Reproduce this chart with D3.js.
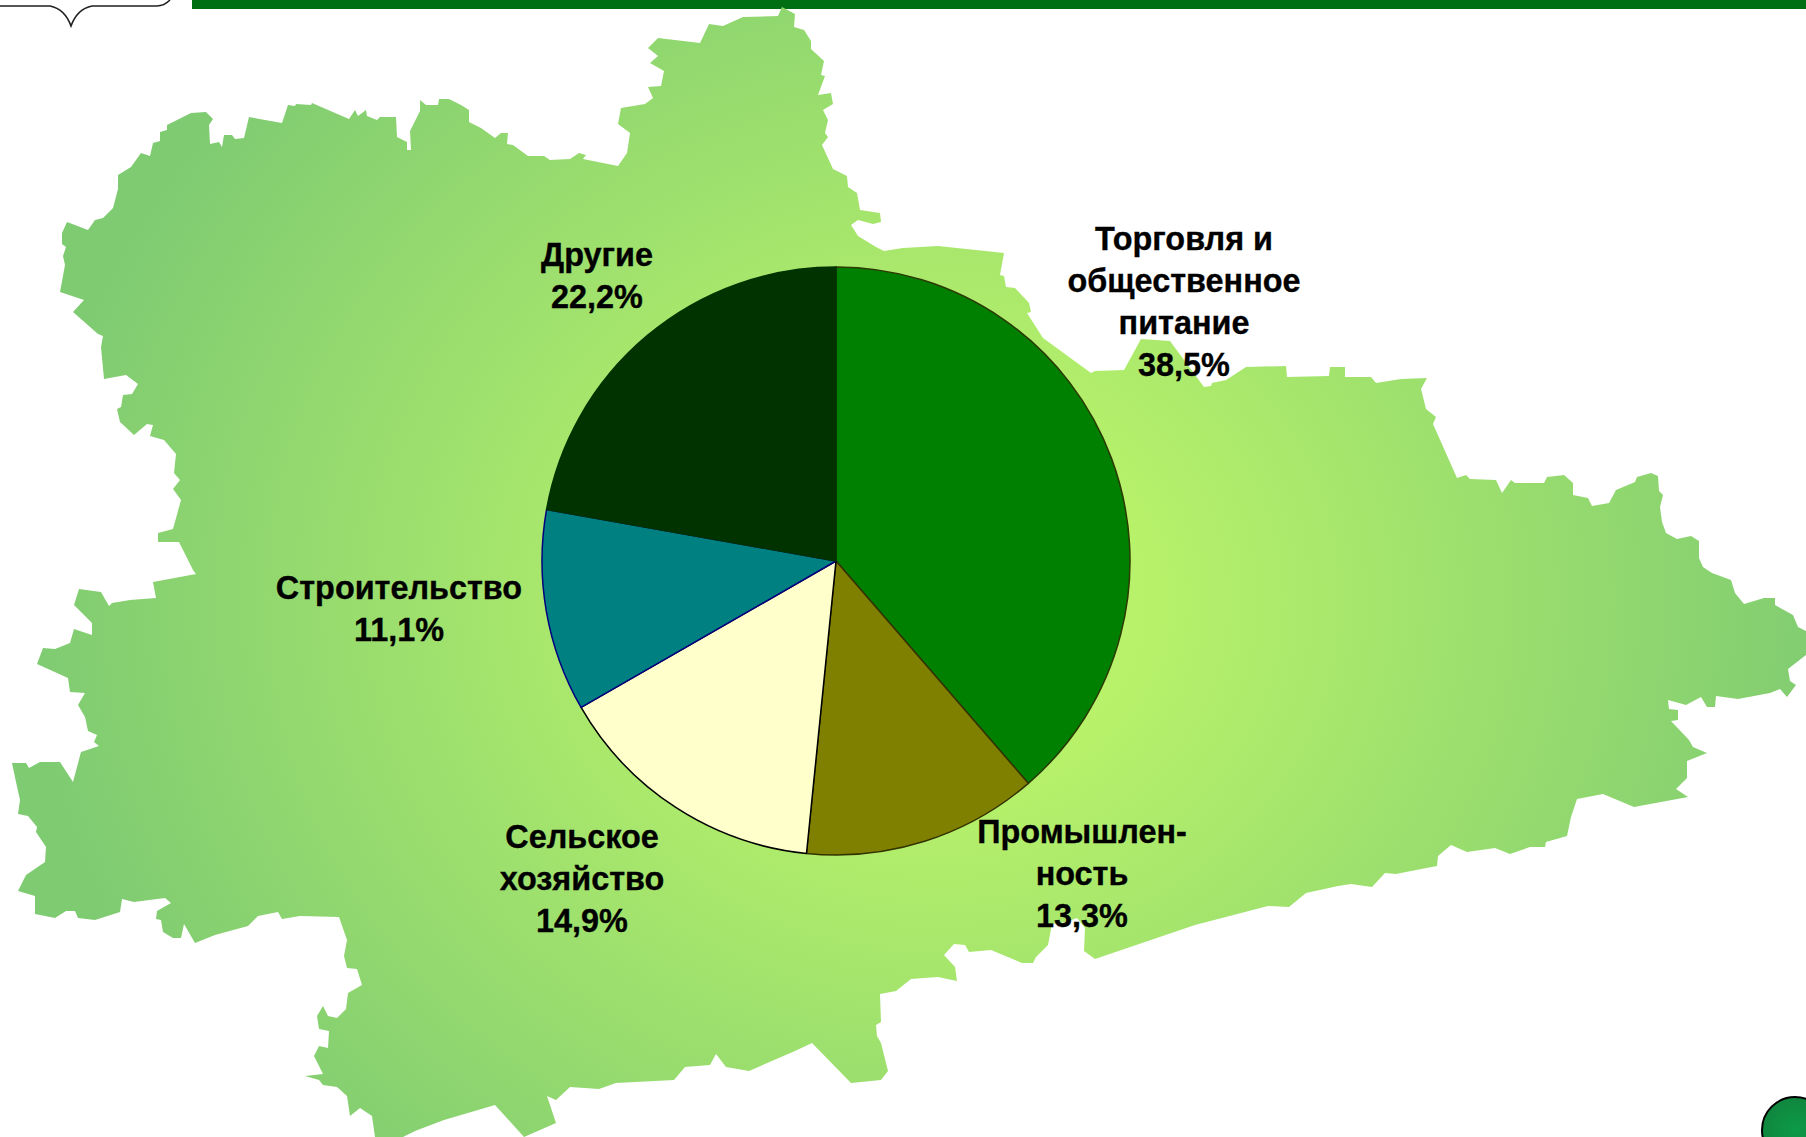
<!DOCTYPE html>
<html lang="ru">
<head>
<meta charset="utf-8">
<title>Структура</title>
<script src="https://cdn.jsdelivr.net/npm/d3@7/dist/d3.min.js"></script>
<style>
html,body{margin:0;padding:0;background:#fff;overflow:hidden}
svg{display:block}
text{font-family:"Liberation Sans",Arial,sans-serif;font-weight:700;fill:#000;stroke:#000;stroke-width:.35px}
</style>
</head>
<body>
<svg id="chart" width="1806" height="1137"></svg>
<script>
// Chart data
const categories = [
  ["Торговля и","общественное","питание"],
  ["Промышлен-","ность"],
  ["Сельское","хозяйство"],
  ["Строительство"],
  ["Другие"]
];
// Percentages printed on the labels
const shares = [38.5, 13.3, 14.9, 11.1, 22.2];
const drawnShares = [38.65, 12.95, 15.1, 11.1, 22.2];
const sliceColors = ["#008000","#808000","#FFFFCC","#008080","#003300"];
const sliceEdges  = ["#2a3a00","#333300","#000000","#000080","#003300"];

// Layout
const W = 1806, H = 1137;
const pieCenter = [836, 561], pieRadius = 294;
const labelCenterX = [1184, 1082, 582, 399, 597];
const labelFirstBaseline = [250, 843, 848, 599, 266];
const lineGap = 42;

// Backdrop map outline of the region (decorative silhouette)
const regionOutline = [
[782,7],[795,14],[794,27],[804,30],[811,41],[811,49],[824,61],[821,75],[825,76],[818,95],[831,93],[833,104],[823,110],[828,120],[825,133],[828,137],[822,145],[833,169],[847,176],[848,187],[857,193],[860,210],[880,213],[881,222],[873,224],[858,220],[851,225],[858,236],[876,247],[884,251],[903,248],
[938,246],[1004,253],[1000,275],[1004,276],[1006,287],[1015,288],[1029,303],[1031,312],[1027,313],[1043,338],[1091,373],[1095,371],[1124,370],[1141,339],[1170,341],[1204,387],[1211,386],[1212,383],[1226,380],[1246,367],[1286,366],[1287,377],[1329,376],[1330,367],[1345,367],[1345,377],[1371,377],[1376,383],[1401,379],[1427,378],[1421,389],[1426,409],[1436,417],[1433,424],[1457,478],[1466,475],[1470,479],[1496,480],[1502,493],[1511,480],[1515,483],[1544,483],[1547,477],[1564,475],[1573,483],[1573,495],[1588,498],[1592,506],[1609,503],[1616,490],[1635,482],[1637,477],[1651,473],[1658,476],[1659,491],[1663,495],[1660,507],[1662,522],[1666,533],[1677,539],[1691,536],[1699,541],[1699,558],[1703,567],[1712,573],[1731,580],[1735,593],[1744,604],[1764,598],[1775,598],[1775,605],[1793,615],[1798,627],[1806,631],
[1806,655],[1788,669],[1790,681],[1796,685],[1787,697],[1780,689],[1770,693],[1738,699],[1716,696],[1715,707],[1707,707],[1701,697],[1686,705],[1668,700],[1669,709],[1678,710],[1678,720],[1671,721],[1689,740],[1693,747],[1707,753],[1687,761],[1687,778],[1676,789],[1688,797],[1634,807],[1603,794],[1577,799],[1571,817],[1567,836],[1546,842],[1545,847],[1530,847],[1510,854],[1495,848],[1467,852],[1451,845],[1438,856],[1437,866],[1411,871],[1396,874],[1385,873],[1372,887],[1351,884],[1338,886],[1306,893],[1289,907],[1268,906],[1195,925],[1095,959],[1084,951],[1085,928],[1077,918],[1066,922],[1052,924],[1048,945],[1036,957],[1033,963],[1022,963],[991,950],[969,952],[965,945],[954,944],[944,955],[955,967],[957,981],[938,977],[911,979],[896,991],[880,994],
[881,1022],[876,1025],[877,1036],[881,1043],[888,1071],[881,1080],[851,1083],[812,1043],[795,1051],[749,1071],[726,1067],[716,1054],[710,1065],[685,1067],[674,1080],[616,1083],[599,1089],[570,1087],[556,1100],[547,1096],[556,1123],[524,1137],[495,1105],[444,1120],[415,1131],[403,1137],[375,1137],[372,1116],[360,1108],[350,1116],[347,1096],[337,1087],[323,1085],[319,1080],[305,1076],[323,1074],[314,1056],[319,1046],[328,1048],[329,1031],[319,1029],[317,1016],[323,1006],[328,1016],[337,1018],[346,1009],[348,993],[362,985],[357,969],[347,968],[344,956],[347,940],[339,917],[300,916],[282,919],[278,912],[258,916],[248,926],[215,935],[195,943],[184,924],[181,938],[173,938],[163,932],[161,920],[156,919],[157,911],[171,903],[165,898],[134,902],[122,899],[120,912],[95,920],[78,918],[75,911],[66,911],[55,918],[35,914],[35,896],[18,891],[26,875],[45,862],[46,847],[36,832],[37,827],[28,816],[18,814],[20,800],[16,782],[12,763],[26,763],[29,768],[40,762],[60,762],[73,782],[81,752],[99,746],[94,742],[97,735],[88,731],[85,717],[78,705],[85,693],[70,692],[68,678],[37,664],[43,648],[55,649],[70,643],[74,629],[92,635],[92,623],[74,605],[79,589],[101,592],[109,606],[112,603],[130,600],[156,598],[153,582],[196,574],
[193,570],[179,542],[158,542],[158,533],[173,529],[181,500],[173,489],[180,480],[174,473],[176,454],[164,440],[150,436],[153,425],[147,424],[134,435],[120,422],[117,409],[121,407],[123,395],[132,394],[138,384],[126,375],[104,379],[101,347],[103,336],[98,334],[73,312],[84,300],[60,292],[65,265],[63,256],[66,247],[62,244],[62,233],[67,222],[88,230],[95,220],[103,218],[113,208],[118,189],[118,175],[131,167],[141,153],[150,156],[153,143],[160,141],[160,132],[167,130],[167,125],[191,113],[206,112],[213,119],[209,125],[210,144],[219,142],[222,147],[224,135],[232,135],[235,139],[244,138],[249,117],[282,123],[288,105],[295,106],[296,104],[311,105],[312,103],[349,119],[355,110],[358,116],[366,110],[367,116],[377,120],[380,117],[396,117],[397,137],[407,142],[407,150],[411,150],[410,131],[420,111],[420,100],[426,105],[438,105],[439,99],[449,99],[461,105],[469,110],[469,122],[481,128],[495,138],[501,133],[508,133],[507,144],[513,145],[528,156],[544,156],[550,160],[570,159],[579,153],[586,155],[583,159],[618,166],[627,153],[630,133],[618,124],[621,108],[645,104],[653,98],[648,87],[661,86],[664,71],[650,63],[658,56],[648,48],[658,38],[700,43],[709,24],[723,26],[743,17],[778,16]
];

const svg = d3.select("#chart");
const defs = svg.append("defs");

const mapGrad = defs.append("radialGradient")
  .attr("id","mapGrad").attr("gradientUnits","userSpaceOnUse")
  .attr("cx",0).attr("cy",0).attr("r",1)
  .attr("gradientTransform","translate(940 600) scale(910 800)");
mapGrad.append("stop").attr("offset","0.22").attr("stop-color","#B8F26A");
mapGrad.append("stop").attr("offset","1").attr("stop-color","#7FCB72");

const dotGrad = defs.append("radialGradient").attr("id","dotGrad");
dotGrad.append("stop").attr("offset","0").attr("stop-color","#0C9A48");
dotGrad.append("stop").attr("offset","1").attr("stop-color","#10863E");

// Header furniture
svg.append("rect").attr("x",192).attr("y",0).attr("width",W-192).attr("height",9).attr("fill","#006F13");
svg.append("path")
  .attr("d","M0 6 H50 C60 8 67 15 71 26 C75 15 82 8 92 6 H157 C163 6 167 3 170 0")
  .attr("fill","none").attr("stroke","#231F20").attr("stroke-width",1.6);

// Map silhouette
svg.append("path")
  .attr("d", d3.line().curve(d3.curveLinearClosed)(regionOutline))
  .attr("fill","url(#mapGrad)");

// Corner dot
svg.append("circle").attr("cx",1795).attr("cy",1130).attr("r",33)
  .attr("fill","url(#dotGrad)").attr("stroke","#000").attr("stroke-width",2);

// Pie
const pie = d3.pie().sort(null).value(d => d);
const arc = d3.arc().innerRadius(0).outerRadius(pieRadius);
const color = d3.scaleOrdinal().domain(d3.range(shares.length)).range(sliceColors);
const edge  = d3.scaleOrdinal().domain(d3.range(shares.length)).range(sliceEdges);

svg.append("g").attr("transform",`translate(${pieCenter})`)
  .selectAll("path").data(pie(drawnShares)).join("path")
  .attr("d",arc)
  .attr("fill",(d,i)=>color(i))
  .attr("stroke",(d,i)=>edge(i))
  .attr("stroke-width",1.5)
  .attr("stroke-linejoin","round");

// Labels
const fmt = v => v.toFixed(1).replace(".",",") + "%";
const labels = svg.append("g").attr("font-size",32.4).attr("text-anchor","middle");
shares.forEach((v,i)=>{
  const lines = categories[i].concat(fmt(v));
  const t = labels.append("text").attr("x",labelCenterX[i]).attr("y",labelFirstBaseline[i]);
  lines.forEach((s,k)=>{
    t.append("tspan").attr("x",labelCenterX[i]).attr("dy",k?lineGap:0).text(s);
  });
});
</script>
</body>
</html>
